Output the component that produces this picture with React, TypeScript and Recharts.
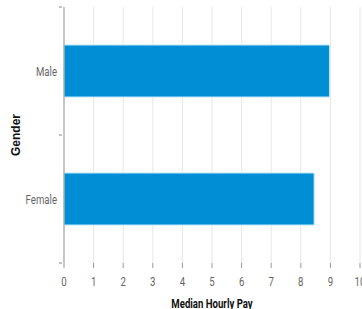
import { Bar, BarChart, CartesianGrid, XAxis, YAxis, Label } from "recharts";

const genders = ["Male", "Female"];
const medianPay = [8.97, 8.45];
const payTicks = [0, 1, 2, 3, 4, 5, 6, 7, 8, 9, 10];

const data = genders.map((g, i) => ({ gender: g, pay: medianPay[i] }));

const FONT = "Roboto, sans-serif";
const SQUEEZE = "scale(0.74,1)";
const HALF_BAND = 64;

function GenderTick(props: any) {
  const { x, y, payload, index } = props;
  return (
    <g>
      <line x1={x + 3} x2={x + 6} y1={y - HALF_BAND} y2={y - HALF_BAND} stroke="#888" />
      {index === genders.length - 1 && (
        <line x1={x + 3} x2={x + 6} y1={y + HALF_BAND} y2={y + HALF_BAND} stroke="#888" />
      )}
      <g transform={`translate(${x + 1},${y})`}>
        <text transform={SQUEEZE} dy={5} textAnchor="end" fill="#666" fontSize={13} fontFamily={FONT}>
          {payload.value}
        </text>
      </g>
    </g>
  );
}

function PayTick(props: any) {
  const { x, y, payload } = props;
  return (
    <g transform={`translate(${x},${y})`}>
      <text transform={SQUEEZE} dy={16} textAnchor="middle" fill="#666" fontSize={13} fontFamily={FONT}>
        {payload.value}
      </text>
    </g>
  );
}

function PayTitle(props: any) {
  const vb = props.viewBox;
  return (
    <g transform={`translate(${vb.x + vb.width / 2},${vb.y + vb.height - 1})`}>
      <text transform={SQUEEZE} textAnchor="middle" fill="#111" fontSize={13} fontWeight={700} fontFamily={FONT}>
        Median Hourly Pay
      </text>
    </g>
  );
}

export default function App() {
  return (
    <div style={{ position: "absolute", left: 0, top: 0 }}>
      <BarChart
        width={362}
        height={309}
        data={data}
        layout="vertical"
        margin={{ top: 7, right: 2, left: 0, bottom: 0 }}
        barCategoryGap={38}
      >
        <CartesianGrid horizontal={false} stroke="#e6e6e6" />
        <XAxis
          type="number"
          domain={[0, 10]}
          ticks={payTicks}
          interval={0}
          axisLine={false}
          tickLine={{ stroke: "#999" }}
          tickSize={5}
          height={46}
          tick={<PayTick />}
        >
          <Label content={<PayTitle />} position="insideBottom" />
        </XAxis>
        <YAxis
          type="category"
          dataKey="gender"
          width={64}
          axisLine={{ stroke: "#999" }}
          tickLine={false}
          tick={<GenderTick />}
        >
          <Label
            value="Gender"
            angle={-90}
            position="insideLeft"
            offset={16}
            style={{ fill: "#111", fontSize: 12, fontWeight: 700, fontFamily: "'Liberation Sans', Arial, sans-serif", textAnchor: "middle" }}
          />
        </YAxis>
        <Bar dataKey="pay" fill="#008fd5" stroke="#bfe6fa" strokeWidth={1} isAnimationActive={false} />
      </BarChart>
    </div>
  );
}
